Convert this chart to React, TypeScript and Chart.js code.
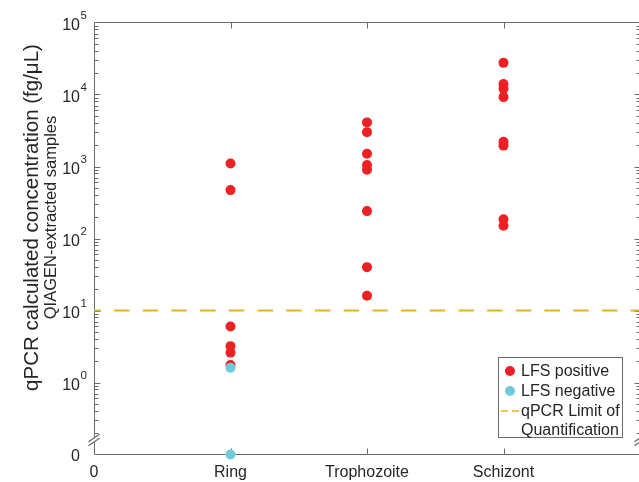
import React, { useEffect, useRef } from 'react';
import { Chart, registerables } from 'chart.js';

Chart.register(...registerables);

// ---------- data ----------
const categories = ['0', 'Ring', 'Trophozoite', 'Schizont'];
const categoryPositions = [0, 1, 2, 3];

const ringPositive = [1100, 470, 6, 3.2, 2.6, 1.75];
const trophozoitePositive = [4100, 3000, 1500, 1050, 900, 240, 40, 16];
const schizontPositive = [27500, 14000, 12000, 9200, 2200, 1950, 185, 150];
const ringNegative = [1.6, 0];

const limitOfQuantification = 10;

const yTickValues = [0.1, 1, 10, 100, 1000, 10000, 100000];
const yTickLabels = ['0', '10^0', '10^1', '10^2', '10^3', '10^4', '10^5'];

const yTitleLines = ['qPCR calculated concentration (fg/\u03BCL)', 'QIAGEN-extracted samples'];
const legendLabels = [['LFS positive'], ['LFS negative'], ['qPCR Limit of', 'Quantification']];

// ---------- axis settings ----------
const ZERO_PLOT_VALUE = 0.1; // value "0" is shown at the bottom of the broken log axis
const Y_MAX = 100000;
const X_MIN = 0;
const X_MAX = 4;
const AXIS_BREAK_VALUE = 0.16;

// ---------- style ----------
const FONT = '"Liberation Sans", Arial, Helvetica, sans-serif';
const TEXT = '#262626';
const AXIS = '#6a6a6a';
const RED = '#ED2024';
const CYAN = '#6FCADB';
const ORANGE = '#EDB120';
const MAJOR = 6;
const MINOR = 4;

const toPlot = (v: number) => (v <= 0 ? ZERO_PLOT_VALUE : v);

const positivePoints = [
  ...ringPositive.map((v) => ({ x: categoryPositions[1], y: toPlot(v) })),
  ...trophozoitePositive.map((v) => ({ x: categoryPositions[2], y: toPlot(v) })),
  ...schizontPositive.map((v) => ({ x: categoryPositions[3], y: toPlot(v) })),
];
const negativePoints = ringNegative.map((v) => ({ x: categoryPositions[1], y: toPlot(v) }));
const loqPoints = [
  { x: X_MIN, y: limitOfQuantification },
  { x: X_MAX, y: limitOfQuantification },
];

const framePlugin = {
  id: 'matlabFrame',
  beforeDatasetsDraw(chart: any) {
    const { ctx, chartArea: a } = chart;
    const xs = chart.scales.x;
    const ys = chart.scales.y;
    const L = Math.floor(a.left) + 0.5;
    const R = Math.floor(a.right) + 0.5;
    const T = Math.floor(a.top) + 0.5;
    const B = Math.floor(a.bottom) + 0.5;
    const yb = ys.getPixelForValue(AXIS_BREAK_VALUE);

    ctx.save();
    ctx.strokeStyle = AXIS;
    ctx.lineWidth = 1;
    ctx.beginPath();
    ctx.moveTo(L, yb - 2);
    ctx.lineTo(L, T);
    ctx.lineTo(R, T);
    ctx.lineTo(R, yb - 2);
    ctx.moveTo(R, yb + 2);
    ctx.lineTo(R, B);
    ctx.lineTo(L, B);
    ctx.lineTo(L, yb + 2);
    ctx.stroke();

    // ticks (inward, mirrored)
    ctx.beginPath();
    for (let k = -1; k <= 4; k++) {
      for (let m = 1; m <= 9; m++) {
        const v = m * Math.pow(10, k);
        if (v <= ZERO_PLOT_VALUE * 1.0001) continue;
        const py = Math.round(ys.getPixelForValue(v)) + 0.5;
        const len = m === 1 ? MAJOR : MINOR;
        ctx.moveTo(L, py);
        ctx.lineTo(L + len, py);
        ctx.moveTo(R, py);
        ctx.lineTo(R - len, py);
      }
    }
    for (const v of categoryPositions) {
      if (v <= X_MIN) continue;
      const px = Math.round(xs.getPixelForValue(v)) + 0.5;
      ctx.moveTo(px, B);
      ctx.lineTo(px, B - MAJOR);
      ctx.moveTo(px, T);
      ctx.lineTo(px, T + MAJOR);
    }
    ctx.stroke();

    // axis break marks "//"
    ctx.lineWidth = 1.3;
    ctx.beginPath();
    for (const X of [L, R]) {
      for (const off of [-2, 2]) {
        ctx.moveTo(X - 6, yb + off + 4);
        ctx.lineTo(X + 5, yb + off - 3.5);
      }
    }
    ctx.stroke();
    ctx.restore();
  },
  afterDraw(chart: any) {
    const { ctx, chartArea: a } = chart;
    const ys = chart.scales.y;
    ctx.save();
    ctx.fillStyle = TEXT;

    // y tick labels with superscript exponents
    const labelRight = a.left - 14;
    yTickValues.forEach((v, i) => {
      const py = ys.getPixelForValue(v);
      const lab = yTickLabels[i];
      const parts = lab.split('^');
      ctx.textBaseline = 'middle';
      if (parts.length === 2) {
        ctx.font = `16px ${FONT}`;
        ctx.textAlign = 'right';
        ctx.fillText(parts[0], labelRight, py + 3);
        ctx.font = `11.5px ${FONT}`;
        ctx.textAlign = 'left';
        ctx.fillText(parts[1], labelRight + 0.5, py - 7);
      } else {
        ctx.font = `16px ${FONT}`;
        ctx.textAlign = 'right';
        ctx.fillText(lab, labelRight, py + 2);
      }
    });

    // y title (two lines, rotated)
    ctx.textAlign = 'center';
    ctx.textBaseline = 'middle';
    const titleXs = [32.5, 51.5];
    const titleSizes = [20.5, 16.5];
    yTitleLines.forEach((line, i) => {
      ctx.save();
      ctx.font = `${titleSizes[i]}px ${FONT}`;
      ctx.translate(titleXs[i], 217.5);
      ctx.rotate(-Math.PI / 2);
      ctx.fillText(line, 0, 0);
      ctx.restore();
    });

    // legend
    const bx = 498.5, by = 357.5, bw = 124, bh = 80;
    ctx.fillStyle = '#ffffff';
    ctx.fillRect(bx, by, bw, bh);
    ctx.strokeStyle = AXIS;
    ctx.lineWidth = 1;
    ctx.strokeRect(bx, by, bw, bh);
    const rows = [371, 391, 411];
    const textX = 521;
    ctx.font = `16px ${FONT}`;
    ctx.textAlign = 'left';
    ctx.textBaseline = 'middle';
    legendLabels.forEach((lines, i) => {
      const cy = rows[i];
      if (i < 2) {
        ctx.fillStyle = i === 0 ? RED : CYAN;
        ctx.beginPath();
        ctx.arc(510, cy, 5, 0, Math.PI * 2);
        ctx.fill();
      } else {
        ctx.strokeStyle = ORANGE;
        ctx.lineWidth = 1.5;
        ctx.setLineDash([7, 4]);
        ctx.beginPath();
        ctx.moveTo(501, cy);
        ctx.lineTo(519, cy);
        ctx.stroke();
        ctx.setLineDash([]);
      }
      ctx.fillStyle = TEXT;
      lines.forEach((t, j) => ctx.fillText(t, textX, cy + j * 19 + 1));
    });
    ctx.restore();
  },
};

export default function App() {
  const ref = useRef<HTMLCanvasElement>(null);
  useEffect(() => {
    const canvas = ref.current;
    if (!canvas) return;
    const chart = new Chart(canvas, {
      type: 'scatter',
      data: {
        datasets: [
          {
            label: 'LFS negative',
            data: negativePoints,
            order: 0,
            pointRadius: 5,
            pointBorderWidth: 0,
            backgroundColor: CYAN,
            borderColor: CYAN,
            clip: false,
          },
          {
            label: 'LFS positive',
            data: positivePoints,
            order: 1,
            pointRadius: 5,
            pointBorderWidth: 0,
            backgroundColor: RED,
            borderColor: RED,
            clip: false,
          },
          {
            label: 'qPCR Limit of Quantification',
            data: loqPoints,
            order: 2,
            showLine: true,
            pointRadius: 0,
            borderColor: ORANGE,
            borderWidth: 2,
            borderDash: [15.5, 13.2],
            borderDashOffset: 8.7,
          } as any,
        ],
      },
      options: {
        responsive: false,
        animation: false,
        events: [],
        layout: { autoPadding: false, padding: { top: 22.5, left: 0, right: 0, bottom: 0 } },
        plugins: { legend: { display: false }, tooltip: { enabled: false } },
        scales: {
          x: {
            type: 'linear',
            min: X_MIN,
            max: X_MAX,
            grid: { display: false, drawTicks: false },
            border: { display: false },
            afterBuildTicks: (s: any) => {
              s.ticks = categoryPositions.map((v) => ({ value: v }));
            },
            afterFit: (s: any) => {
              s.height = 27.5;
            },
            ticks: {
              autoSkip: false,
              maxRotation: 0,
              padding: 8,
              color: TEXT,
              font: { family: FONT, size: 16 },
              callback: (v: any) => {
                const i = categoryPositions.indexOf(Number(v));
                return i >= 0 ? categories[i] : '';
              },
            },
          },
          y: {
            type: 'logarithmic',
            min: ZERO_PLOT_VALUE,
            max: Y_MAX,
            grid: { display: false, drawTicks: false },
            border: { display: false },
            ticks: { display: false },
            afterFit: (s: any) => {
              s.width = 94;
            },
          },
        },
      } as any,
      plugins: [framePlugin],
    });
    return () => chart.destroy();
  }, []);

  return (
    <div style={{ position: 'fixed', left: 0, top: 0, width: 640, height: 482, background: '#ffffff' }}>
      <canvas ref={ref} width={640} height={482} style={{ display: 'block' }} />
    </div>
  );
}
